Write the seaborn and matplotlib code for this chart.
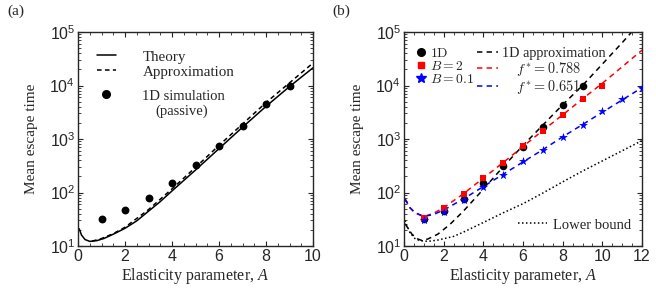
import numpy as np
import matplotlib
matplotlib.use("Agg")
import matplotlib.pyplot as plt
from matplotlib.lines import Line2D
from matplotlib.ticker import MultipleLocator, LogLocator, NullFormatter
import seaborn as sns

# ---- panel (a) ----
theory_A = [0.05, 0.15, 0.3, 0.5, 0.8, 1.1, 1.5, 2, 2.5, 3, 3.5, 4, 5, 6, 7, 8, 9, 10]
theory_T = [21, 16, 13.2, 12.2, 12.6, 13.8, 16.6, 21.4, 29.5, 44.7, 67.6, 107, 263, 661, 1660, 4070, 9550, 21400]

approx_A = [0.6, 1, 1.5, 2, 3, 4, 5, 6, 7, 8, 9, 10]
approx_T = [12.3, 13.8, 17, 22.4, 47.9, 117, 295, 759, 1905, 4790, 11200, 26300]

sim_A = [1, 2, 3, 4, 5, 6, 7, 8, 9]
sim_T = [32, 48, 80, 150, 320, 725, 1740, 4470, 9800]

# ---- panel (b) ----
oned_A = [1, 2, 3, 4, 5, 6, 7, 8, 9]
oned_T = [32, 46, 75, 148, 316, 700, 1700, 4400, 9800]
b2_A = [1, 2, 3, 4, 5, 6, 7, 8, 9, 10]
b2_T = [34, 51, 93, 183, 355, 725, 1440, 2750, 5650, 9600]
b01_A = [1, 2, 3, 4, 5, 6, 7, 8, 9, 10, 11, 12]
b01_T = [30, 44, 72, 128, 214, 380, 630, 1080, 1860, 3300, 5500, 8900]

oned_fit_A = [0.05, 0.15, 0.4, 0.7, 0.9, 1.2, 1.7, 2.3, 3, 4, 5, 6, 7, 8, 9, 10, 11, 11.6]
oned_fit_T = [26, 23, 16.6, 13.5, 12.7, 13.5, 16.6, 25, 45, 115, 302, 759, 1820, 4370, 10000, 25100, 63100, 112000]
red_fit_A = [0.05, 0.3, 0.55, 1.0, 1.5, 2, 3, 4, 5, 6, 7, 8, 9, 10, 11, 12]
red_fit_T = [76, 52, 42, 35.5, 41, 52, 95, 186, 363, 724, 1445, 2820, 5620, 11000, 22400, 45700]
blue_fit_A = [0.05, 0.3, 0.55, 1.0, 1.5, 2, 3, 4, 5, 6, 7, 8, 9, 10, 11, 12]
blue_fit_T = [76, 52, 42, 35.5, 39, 47, 76, 129, 219, 372, 631, 1100, 1860, 3160, 5370, 9120]
lower_A = [0.05, 0.15, 0.3, 0.55, 0.8, 1.2, 1.7, 2.5, 3, 4, 5, 6, 7, 8, 9, 10, 11, 12]
lower_T = [30, 24, 17.8, 13.8, 12.6, 12.2, 12.9, 15.1, 18.2, 27.5, 41.7, 61.7, 97.7, 158, 251, 389, 603, 933]

sns.set_style("ticks")
plt.rcParams["font.family"] = ["Liberation Serif", "DejaVu Serif"]
plt.rcParams["mathtext.fontset"] = "custom"
plt.rcParams["mathtext.rm"] = "Liberation Serif"
plt.rcParams["mathtext.it"] = "Liberation Serif:italic"

fig = plt.figure(figsize=(6.56, 2.94), dpi=100)
ax1 = fig.add_axes([78 / 656, 1 - 246 / 294, 235 / 656, 214 / 294])
ax2 = fig.add_axes([404 / 656, 1 - 246 / 294, 238 / 656, 214 / 294])

lw = 1.1
dash_a = (0, (3, 2.2))
dash = (0, (3.5, 2.8))
dots = (0, (1, 1.6))

sns.lineplot(x=theory_A, y=theory_T, ax=ax1, color="black", lw=lw, sort=False, estimator=None)
sns.lineplot(x=approx_A, y=approx_T, ax=ax1, color="black", lw=lw, sort=False, estimator=None,
             linestyle=dash_a)
sns.scatterplot(x=sim_A, y=sim_T, ax=ax1, color="black", marker="o", s=32, linewidth=0, zorder=3)

sns.lineplot(x=lower_A, y=lower_T, ax=ax2, color="black", lw=lw, sort=False, estimator=None, linestyle=dots)
sns.lineplot(x=oned_fit_A, y=oned_fit_T, ax=ax2, color="black", lw=lw, sort=False, estimator=None, linestyle=dash)
sns.lineplot(x=red_fit_A, y=red_fit_T, ax=ax2, color="red", lw=lw, sort=False, estimator=None, linestyle=dash)
sns.lineplot(x=blue_fit_A, y=blue_fit_T, ax=ax2, color="blue", lw=lw, sort=False, estimator=None, linestyle=dash)
sns.scatterplot(x=oned_A, y=oned_T, ax=ax2, color="black", marker="o", s=30, linewidth=0, zorder=3)
sns.scatterplot(x=b2_A, y=b2_T, ax=ax2, color="red", marker="s", s=22, linewidth=0, zorder=4)
sns.scatterplot(x=b01_A, y=b01_T, ax=ax2, color="blue", marker="*", s=45, linewidth=0, zorder=5)

for ax, xmax in [(ax1, 10), (ax2, 12)]:
    ax.set_yscale("log")
    ax.set_xlim(0, xmax)
    ax.set_ylim(10, 1e5)
    ax.xaxis.set_major_locator(MultipleLocator(2))
    ax.xaxis.set_minor_locator(MultipleLocator(0.5))
    ax.yaxis.set_major_locator(LogLocator(base=10, numticks=10))
    ax.yaxis.set_minor_locator(LogLocator(base=10, subs=np.arange(2, 10), numticks=10))
    ax.yaxis.set_minor_formatter(NullFormatter())
    ax.tick_params(which="both", direction="in", top=True, right=True)
    ax.tick_params(which="major", length=3.5, width=0.8, labelsize=11.5, pad=2,
                   labelfontfamily="Liberation Sans")
    ax.tick_params(which="minor", length=2, width=0.6)
    for sp in ax.spines.values():
        sp.set_linewidth(1.0)
    ax.set_xlabel(r"Elasticity parameter, $\mathit{A}$", fontsize=11.5, labelpad=1.5)
    ax.set_ylabel("Mean escape time", fontsize=11, labelpad=8)

fig.text(7 / 656, 1 - 11 / 294, "(a)", fontsize=11, va="center")
fig.text(332 / 656, 1 - 11 / 294, "(b)", fontsize=11, va="center")

# legend (a)
h1 = [Line2D([], [], color="black", lw=lw), Line2D([], [], color="black", lw=lw, linestyle=dash_a)]
leg1 = ax1.legend(h1, ["Theory", "Approximation"], loc="upper left",
                  bbox_to_anchor=(0.08, 0.915), frameon=False, fontsize=10.8, handlelength=1.3,
                  handletextpad=1.75, labelspacing=0.1, borderpad=0, borderaxespad=0)
ax1.add_artist(leg1)
leg1b = ax1.legend([Line2D([], [], color="black", lw=0, marker="o", markersize=5.5)], ["1D simulation"],
                   loc="center left", bbox_to_anchor=(0.08, (246 - 96) / 214), frameon=False,
                   fontsize=10.5, handlelength=1.3, handletextpad=1.8, borderpad=0, borderaxespad=0)
ax1.text((182 - 78) / 235, (246 - 111) / 214, "(passive)", transform=ax1.transAxes,
         ha="center", va="center", fontsize=10.5)

# legends (b)
mk = [Line2D([], [], color="black", lw=0, marker="o", markersize=5.5),
      Line2D([], [], color="red", lw=0, marker="s", markersize=4.5),
      Line2D([], [], color="blue", lw=0, marker="*", markersize=7)]
legm = ax2.legend(mk, [r"$\mathrm{1D}$", r"$B=2$", r"$B=0.1$"], loc="upper left",
                  bbox_to_anchor=(0.05, 0.93), frameon=False, fontsize=9.8, handlelength=0.7,
                  handletextpad=0.3, labelspacing=0.0, borderpad=0, borderaxespad=0)
for t in legm.get_texts():
    t.set_math_fontfamily("cm")
ax2.add_artist(legm)

dl = [Line2D([], [], color=c, lw=lw, linestyle=dash) for c in ["black", "red", "blue"]]
legd = ax2.legend(dl, ["1D approximation", r"$\quad\,f^{*}=0.788$", r"$\quad\,f^{*}=0.651$"],
                  loc="upper left", bbox_to_anchor=(0.305, 0.93), frameon=False, fontsize=10.3,
                  handlelength=1.5, handletextpad=0.3, labelspacing=0.0, borderpad=0, borderaxespad=0)
for t in legd.get_texts():
    t.set_math_fontfamily("cm")
ax2.add_artist(legd)

ax2.legend([Line2D([], [], color="black", lw=lw, linestyle=dots)], ["Lower bound"],
           loc="center left", bbox_to_anchor=((518 - 404) / 238, (245 - 224) / 213), frameon=False,
           fontsize=10.5, handlelength=2.0, handletextpad=0.4, borderpad=0, borderaxespad=0)

fig.savefig("out.png", dpi=100)
